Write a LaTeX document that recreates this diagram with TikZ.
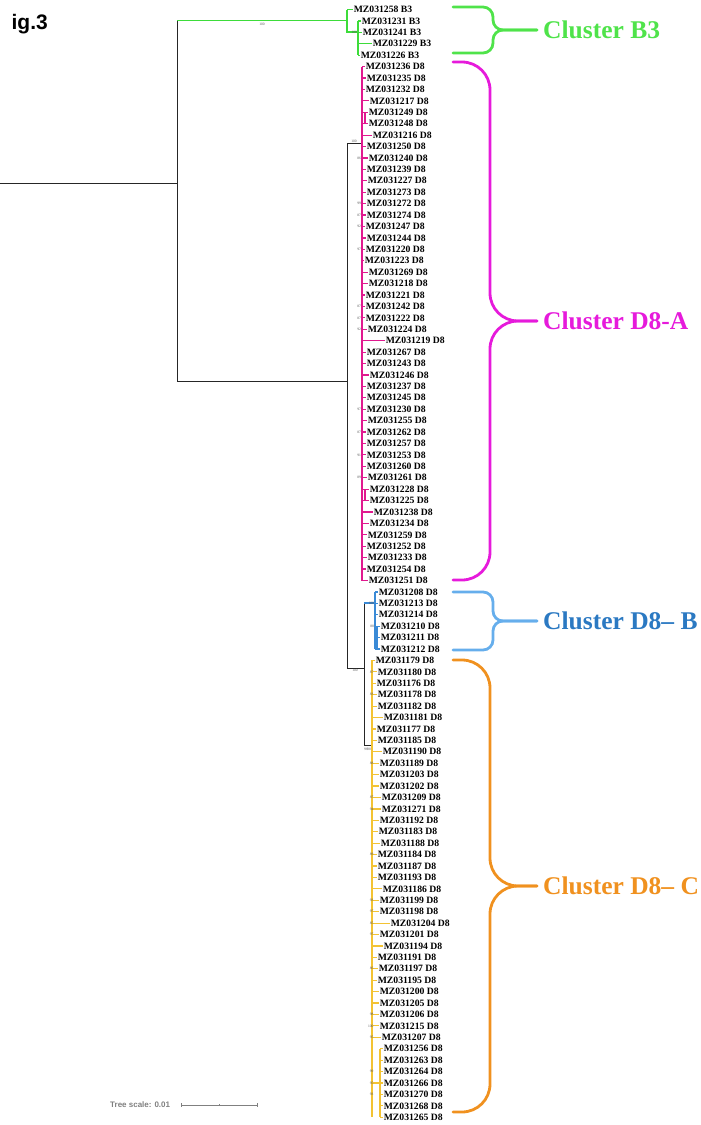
\documentclass[tikz,border=0pt]{standalone}
\usepackage{fontspec}
\setmainfont{Liberation Serif}
\newfontfamily\arialfont{Liberation Sans}
\definecolor{bthree}{HTML}{3DDC3A}
\definecolor{dAtree}{HTML}{E0198F}
\definecolor{dBtree}{HTML}{3A8AD6}
\definecolor{dCtree}{HTML}{F3C333}
\definecolor{bthreebr}{HTML}{4FE34A}
\definecolor{dAbr}{HTML}{E61ADB}
\definecolor{dBbr}{HTML}{66AEEC}
\definecolor{dBtext}{HTML}{2B79C2}
\definecolor{dCbr}{HTML}{F0911F}
\definecolor{bootgray}{HTML}{555555}
\begin{document}
\begin{tikzpicture}[x=1pt,y=-1pt]
    \tikzstyle{leaf} = [anchor=west, inner sep=0.6pt, font=\bfseries\fontsize{9.7}{10}\selectfont]
    \tikzstyle{branch} = [line width=1.2pt]
    \tikzstyle{trunk} = [line width=1pt, black!85]
    \tikzstyle{spine} = [line width=1.8pt]
    \tikzstyle{boot} = [inner sep=0pt, text=bootgray, font=\fontsize{3.6}{4}\selectfont]
    \tikzstyle{brace} = [line width=2.8pt, line cap=round]
    \tikzstyle{cluster} = [anchor=west, inner sep=0pt, font=\bfseries\fontsize{25.5}{26}\selectfont]

    \useasboundingbox (0,0) rectangle (701,1125);

    \node[anchor=base east, inner sep=0pt, font=\arialfont\bfseries\fontsize{21}{22}\selectfont] (fig) at (48,29) {ig.3};

    % inner nodes of the tree
    \coordinate (root) at (0,183);
    \coordinate (n0) at (177,183);
    \coordinate (n0top) at (177,20.5);
    \coordinate (n0bot) at (177,381);
    \coordinate (nB3) at (347,20.5);
    \coordinate (nB3i) at (358,32);
    \coordinate (nD8) at (347,381);
    \coordinate (nA) at (362,143);
    \coordinate (nBC) at (364,668);
    \coordinate (nB) at (375,603);
    \coordinate (nBs) at (377,638);
    \coordinate (nC) at (372,745);
    \coordinate (nCs) at (380,1083);

    \draw[trunk] (root) -- (n0);
    \draw[trunk] (n0top) -- (n0bot);
    \draw[branch, bthree] (n0top) -- (nB3);
    \draw[trunk] (n0bot) -- (nD8);
    \draw[trunk] (nD8 |- nA) -- (nD8 |- nBC);
    \draw[trunk] (nD8 |- nA) -- (nA);
    \draw[trunk] (nD8 |- nBC) -- (nBC);
    \draw[trunk] (nBC |- nB) -- (nBC |- nC);
    \draw[branch, dBtree] (nBC |- nB) -- (nB);
    \draw[trunk] (nBC |- nC) -- (nC);

    % cluster B3
    \node[leaf] (m258) at (353,9.5) {MZ031258 B3};
    \foreach \id/\tx [count=\i from 1] in {231/361, 241/362, 229/372, 226/360} {
        \node[leaf] (m\id) at (\tx, {9.5+11.42*\i}) {MZ031\id\ B3};
        \draw[branch, bthree] (nB3i |- m\id.west) -- (m\id.west);
    }
    \draw[branch, bthree] (nB3 |- m258.west) -- (m258.west);
    \draw[branch, bthree] (nB3 |- m258.west) -- (nB3 |- nB3i) -- (nB3i);
    \draw[branch, bthree] (nB3i |- m231.west) -- (nB3i |- m226.west);

    % cluster D8-A
    \foreach \id/\tx [count=\i from 5] in {236/365, 235/366, 232/365, 217/369, 249/368, 248/368, 216/372, 250/366, 240/368, 239/366, 227/367, 273/366, 272/366, 274/366, 247/365, 244/366, 220/365, 223/364, 269/368, 218/368, 221/365, 242/365, 222/365, 224/367, 219/385, 267/366, 243/366, 246/369, 237/366, 245/366, 230/366, 255/367, 262/366, 257/366, 253/366, 260/366, 261/367, 228/369, 225/369, 238/373, 234/369, 259/367, 252/366, 233/367, 254/366, 251/368} {
        \node[leaf] (m\id) at (\tx, {9.5+11.42*\i}) {MZ031\id\ D8};
        \draw[branch, dAtree] (nA |- m\id.west) -- (m\id.west);
    }
    \draw[spine, dAtree] (nA |- m236.west) -- (nA |- m251.west);
    \draw[branch, dAtree] ([xshift=3pt]nA |- m249.west) -- ([xshift=3pt]nA |- m248.west);
    \draw[branch, dAtree] ([xshift=3pt]nA |- m228.west) -- ([xshift=3pt]nA |- m225.west);

    % cluster D8-B
    \foreach \id/\tx [count=\i from 51] in {208/378, 213/378, 214/378, 210/380, 211/380, 212/380} {
        \node[leaf] (m\id) at (\tx, {9.5+11.42*\i}) {MZ031\id\ D8};
        \draw[branch, dBtree] (nB |- m\id.west) -- (m\id.west);
    }
    \draw[branch, dBtree] (nB |- m208.west) -- (nB |- m212.west);
    \draw[branch, dBtree] (nBs |- m210.west) -- (nBs |- m212.west);

    % cluster D8-C
    \foreach \id/\tx [count=\i from 57] in {179/375, 180/377, 176/376, 178/377, 182/377, 181/383, 177/376, 185/377, 190/382, 189/379, 203/379, 202/379, 209/381, 271/381, 192/379, 183/378, 188/380, 184/377, 187/377, 193/377, 186/382, 199/379, 198/379, 204/390, 201/379, 194/383, 191/377, 197/378, 195/377, 200/379, 205/379, 206/379, 215/379, 207/381} {
        \node[leaf] (m\id) at (\tx, {9.5+11.42*\i}) {MZ031\id\ D8};
        \draw[branch, dCtree] (nC |- m\id.west) -- (m\id.west);
    }
    \foreach \id/\tx [count=\i from 91] in {256/383, 263/383, 264/383, 266/383, 270/383, 268/383, 265/383} {
        \node[leaf] (m\id) at (\tx, {9.5+11.42*\i}) {MZ031\id\ D8};
        \draw[branch, dCtree] (nCs |- m\id.west) -- (m\id.west);
    }
    \draw[branch, dCtree] (nC |- m179.west) -- (nC);
    \draw[spine, dCtree] (nC) -- (nC |- m265.west);
    \draw[branch, dCtree] (nC |- nCs) -- (nCs);
    \draw[branch, dCtree] (nCs |- m256.west) -- (nCs |- m265.west);

    % bootstrap values
    \node[boot, anchor=north] (bt1) at (262,22.5) {100};
    \node[boot, anchor=east] (bt2) at ([xshift=-0.8pt]nB3i) {100};
    \node[boot, anchor=south] (bt3) at ([xshift=7pt, yshift=0.5pt]nD8 |- nA) {100};
    \node[boot, anchor=north] (bt4) at ([xshift=8pt, yshift=-1pt]nD8 |- nBC) {100};
    \node[boot, anchor=east] (bt5) at ([xshift=-0.8pt]nB) {100};
    \node[boot, anchor=east] (bt6) at ([xshift=-1pt, yshift=-4pt]nC) {98};
    \node[boot, anchor=west] (bt7) at ([xshift=-8pt, yshift=-4.5pt]nC) {96};
    \node[boot, anchor=east] (bt8) at ([xshift=-0.8pt]nB |- m210.west) {88};
    \foreach \id/\val [count=\k] in {240/86, 272/99, 274/87, 247/92, 220/97, 242/87, 222/87, 224/92, 230/97, 262/87, 253/91, 261/89} {
        \node[boot, anchor=east] (bA\k) at ([xshift=-0.8pt]nA |- m\id.west) {\val};
    }
    \foreach \id/\val [count=\k] in {180/87, 178/83, 189/88, 209/87, 271/94, 184/89, 199/93, 198/97, 204/85, 201/97, 197/86, 206/98, 215/100, 207/95, 264/99, 266/95, 270/93} {
        \node[boot, anchor=east] (bC\k) at ([xshift=1.6pt]nC |- m\id.west) {\val};
    }

    % cluster braces
    \node[cluster, text=bthreebr] (cB3) at (543,30) {Cluster B3};
    \node[cluster, text=dAbr] (cA) at (543,321) {Cluster D8-A};
    \node[cluster, text=dBtext] (cB) at (543,621) {Cluster D8– B};
    \node[cluster, text=dCbr] (cC) at (543,886) {Cluster D8– C};

    \draw[brace, bthreebr, rounded corners=10pt] (453,7) -- (493,7) -- (493,30) -- ([xshift=-6pt]cB3.west);
    \draw[brace, bthreebr, rounded corners=10pt] (453,53) -- (493,53) -- (493,30) -- ([xshift=-6pt]cB3.west);
    \draw[brace, dAbr, rounded corners=28pt] (453,62) -- (490,62) -- (490,321) -- ([xshift=-6pt]cA.west);
    \draw[brace, dAbr, rounded corners=28pt] (453,580) -- (490,580) -- (490,321) -- ([xshift=-6pt]cA.west);
    \draw[brace, dBbr, rounded corners=10pt] (453,592) -- (493,592) -- (493,621) -- ([xshift=-6pt]cB.west);
    \draw[brace, dBbr, rounded corners=10pt] (453,650) -- (493,650) -- (493,621) -- ([xshift=-6pt]cB.west);
    \draw[brace, dCbr, rounded corners=28pt] (453,660) -- (490,660) -- (490,886) -- ([xshift=-6pt]cC.west);
    \draw[brace, dCbr, rounded corners=28pt] (453,1112) -- (490,1112) -- (490,886) -- ([xshift=-6pt]cC.west);

    % scale bar
    \node[anchor=west, inner sep=0pt, text=gray, font=\arialfont\bfseries\fontsize{8}{9}\selectfont] (tscale) at (110,1105) {Tree scale: 0.01};
    \coordinate (sbL) at (181,1105);
    \coordinate (sbM) at (219,1105);
    \coordinate (sbR) at (257,1105);
    \draw[gray, line width=0.7pt] (sbL) -- (sbR);
    \draw[gray, line width=0.7pt] ([yshift=2pt]sbL) -- ([yshift=-2pt]sbL);
    \draw[gray, line width=0.7pt] ([yshift=1pt]sbM) -- ([yshift=-1pt]sbM);
    \draw[gray, line width=0.7pt] ([yshift=2pt]sbR) -- ([yshift=-2pt]sbR);
\end{tikzpicture}
\end{document}
